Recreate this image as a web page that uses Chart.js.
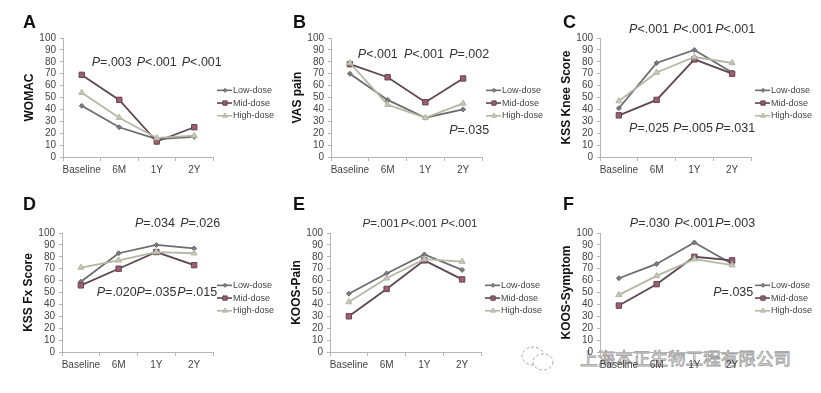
<!DOCTYPE html>
<html>
<head>
<meta charset="utf-8">
<script src="https://cdn.jsdelivr.net/npm/chart.js@4.4.1/dist/chart.umd.min.js"></script>
<style>
    body { margin: 0; background: #fff; width: 821px; height: 393px; overflow: hidden; position: relative; }
    canvas { position: absolute; }
    #mark {
        position: absolute; left: 580px; top: 346px;
        font-family: "Noto Sans CJK SC", sans-serif; font-size: 17.6px; line-height: 24px;
        color: #fff; -webkit-text-stroke: 0.8px #9a9a9a;
    }
    #icon { position: absolute; left: 520px; top: 344px; }
</style>
</head>
<body>
<svg id="icon" width="36" height="30" viewBox="0 0 36 30">
    <ellipse cx="13" cy="12" rx="11" ry="9" fill="#fff" stroke="#aaa" stroke-width="1" stroke-dasharray="3 2"/>
    <ellipse cx="23" cy="18" rx="10" ry="8" fill="#fff" stroke="#aaa" stroke-width="1" stroke-dasharray="3 2"/>
</svg>
<div id="mark">上海本正生物工程有限公司</div>

<script>
// Categories and series
const categories = ["Baseline", "6M", "1Y", "2Y"];
const seriesNames = ["Low-dose", "Mid-dose", "High-dose"];

// A - WOMAC
const womacLow = [43, 25, 15, 17];
const womacMid = [69, 48, 13, 25];
const womacHigh = [54, 33, 16, 18];

// B - VAS pain
const vasLow = [70, 48, 33, 40];
const vasMid = [78, 67, 46, 66];
const vasHigh = [79, 44, 33, 45];

// C - KSS Knee Score
const kneeLow = [41, 79, 90, 71];
const kneeMid = [35, 48, 82, 70];
const kneeHigh = [47, 71, 84, 79];

// D - KSS Fx Score
const fxLow = [59, 83, 90, 87];
const fxMid = [56, 70, 84, 73];
const fxHigh = [71, 77, 84, 83];

// E - KOOS-Pain
const koosPainLow = [49, 66, 82, 69];
const koosPainMid = [30, 53, 77, 61];
const koosPainHigh = [42, 62, 78, 76];

// F - KOOS-Symptom
const koosSymLow = [62, 74, 92, 74];
const koosSymMid = [39, 57, 80, 77];
const koosSymHigh = [48, 64, 78, 73];

const yTicksMax = 100;
const yTicksStep = 10;

// Series styles
const styles = [
    { line: "#6b6c70", fill: "#7a7b80", point: "rectRot", r: 2.5 },
    { line: "#5e4652", fill: "#a05e6e", point: "rect", r: 3.8 },
    { line: "#b3b8a4", fill: "#c3c7b3", point: "triangle", r: 3.5 }
];

const FONT = "'Liberation Sans', Arial, sans-serif";

// Panels: canvas box and plot area in page pixels
const panels = [
    { letter: "A", title: "WOMAC", data: [womacLow, womacMid, womacHigh],
      box: [0, 0, 290, 190], area: [63, 38, 213, 157], letterY: 28, pSize: 12.5,
      notes: [["P=.003", 0.8, 79], ["P<.001", 2, 79], ["P<.001", 3.2, 79]] },
    { letter: "B", title: "VAS pain", data: [vasLow, vasMid, vasHigh],
      box: [270, 0, 290, 190], area: [331, 38, 482, 157], letterY: 28, pSize: 12.5,
      notes: [["P<.001", 0.74, 86], ["P<.001", 1.96, 86], ["P=.002", 3.16, 86], ["P=.035", 3.16, 22]] },
    { letter: "C", title: "KSS Knee Score", data: [kneeLow, kneeMid, kneeHigh],
      box: [540, 0, 281, 190], area: [600, 38, 751, 157], letterY: 28, pSize: 12.5,
      notes: [["P<.001", 0.8, 107], ["P<.001", 1.96, 107], ["P<.001", 3.08, 107],
              ["P=.025", 0.8, 24], ["P=.005", 1.96, 24], ["P=.031", 3.08, 24]] },
    { letter: "D", title: "KSS Fx Score", data: [fxLow, fxMid, fxHigh],
      box: [0, 190, 290, 203], area: [62, 233, 213, 352], letterY: 20, pSize: 12.5,
      notes: [["P=.034", 1.96, 108], ["P=.026", 3.16, 108],
              ["P=.020", 0.95, 50], ["P=.035", 2.0, 50], ["P=.015", 3.08, 50]] },
    { letter: "E", title: "KOOS-Pain", data: [koosPainLow, koosPainMid, koosPainHigh],
      box: [270, 190, 290, 203], area: [330, 233, 481, 352], letterY: 20, pSize: 11.5,
      notes: [["P=.001", 0.85, 108], ["P<.001", 1.86, 108], ["P<.001", 2.92, 108]] },
    { letter: "F", title: "KOOS-Symptom", data: [koosSymLow, koosSymMid, koosSymHigh],
      box: [540, 190, 281, 203], area: [600, 233, 751, 352], letterY: 20, pSize: 12.5,
      notes: [["P=.030", 0.82, 108], ["P<.001", 2.0, 108], ["P=.003", 3.08, 108], ["P=.035", 3.03, 50]] }
];

function drawMarker(ctx, style, x, y) {
    ctx.fillStyle = style.fill;
    ctx.strokeStyle = style.line;
    ctx.lineWidth = 1;
    Chart.helpers.drawPoint(ctx, { pointStyle: style.point, radius: style.r * 0.8, borderWidth: 1 }, x, y);
}

function makeDecor(panel) {
    return {
        id: "decor" + panel.letter,
        afterDraw(chart) {
            const ctx = chart.ctx;
            const area = chart.chartArea;
            const xs = chart.scales.x;
            const ys = chart.scales.y;
            ctx.save();

            // panel letter
            ctx.fillStyle = "#111";
            ctx.font = "bold 18px " + FONT;
            ctx.textBaseline = "alphabetic";
            ctx.fillText(panel.letter, 23, panel.letterY);

            // y title
            ctx.save();
            ctx.translate(area.left - 33, (area.top + area.bottom) / 2);
            ctx.rotate(-Math.PI / 2);
            ctx.textAlign = "center";
            ctx.textBaseline = "middle";
            ctx.font = "bold 12px " + FONT;
            ctx.fillText(panel.title, 0, 0);
            ctx.restore();

            // P values
            ctx.fillStyle = "#333";
            ctx.textBaseline = "middle";
            panel.notes.forEach(([text, at, value]) => {
                const px = xs.getPixelForValue(at);
                const py = ys.getPixelForValue(value);
                const head = text[0];
                const rest = text.slice(1);
                ctx.font = "italic " + panel.pSize + "px " + FONT;
                const w1 = ctx.measureText(head).width;
                ctx.font = panel.pSize + "px " + FONT;
                const w2 = ctx.measureText(rest).width;
                const x0 = px - (w1 + w2) / 2;
                ctx.font = "italic " + panel.pSize + "px " + FONT;
                ctx.fillText(head, x0, py);
                ctx.font = panel.pSize + "px " + FONT;
                ctx.fillText(rest, x0 + w1, py);
            });

            // legend
            const lx = area.right + 4;
            let ly = area.top + area.height * 0.44;
            ctx.font = "9px " + FONT;
            seriesNames.forEach((name, i) => {
                const st = styles[i];
                ctx.strokeStyle = st.line;
                ctx.lineWidth = 1.6;
                ctx.beginPath();
                ctx.moveTo(lx, ly);
                ctx.lineTo(lx + 15, ly);
                ctx.stroke();
                drawMarker(ctx, st, lx + 8, ly);
                ctx.fillStyle = "#444";
                ctx.fillText(name, lx + 16, ly);
                ly += 12.7;
            });
            ctx.restore();
        }
    };
}

function drawPanel(panel) {
    const [left, top, w, h] = panel.box;
    const [x0, y0, x1, y1] = panel.area;
    const xAxisH = 22;

    const canvas = document.createElement("canvas");
    canvas.width = w;
    canvas.height = h;
    canvas.style.left = left + "px";
    canvas.style.top = top + "px";
    document.body.appendChild(canvas);

    new Chart(canvas, {
        type: "line",
        data: {
            labels: categories,
            datasets: panel.data.map((values, i) => ({
                label: seriesNames[i],
                data: values,
                borderColor: styles[i].line,
                backgroundColor: styles[i].fill,
                pointBorderColor: styles[i].line,
                pointBackgroundColor: styles[i].fill,
                pointStyle: styles[i].point,
                pointRadius: styles[i].r,
                pointBorderWidth: 1,
                borderWidth: 1.8,
                tension: 0
            })).reverse()
        },
        options: {
            responsive: false,
            animation: false,
            devicePixelRatio: 1,
            layout: {
                padding: { left: 0, top: y0 - top, right: left + w - x1, bottom: top + h - y1 - xAxisH }
            },
            plugins: { legend: { display: false }, tooltip: { enabled: false } },
            scales: {
                x: {
                    offset: true,
                    afterFit: (s) => { s.height = xAxisH; },
                    grid: { offset: true, drawOnChartArea: false, tickLength: 4, color: "#b5b5b5" },
                    border: { color: "#b5b5b5" },
                    ticks: { autoSkip: false, font: { family: FONT, size: 10 }, color: "#444", padding: 3, maxRotation: 0 }
                },
                y: {
                    min: 0,
                    max: yTicksMax,
                    afterFit: (s) => { s.width = x0 - left; },
                    grid: { drawOnChartArea: false, tickLength: 3, color: "#b5b5b5" },
                    border: { color: "#b5b5b5" },
                    ticks: { autoSkip: false, stepSize: yTicksStep, font: { family: FONT, size: 10 }, color: "#444", padding: 4 }
                }
            }
        },
        plugins: [makeDecor(panel)]
    });
}

panels.forEach(drawPanel);
</script>
</body>
</html>
